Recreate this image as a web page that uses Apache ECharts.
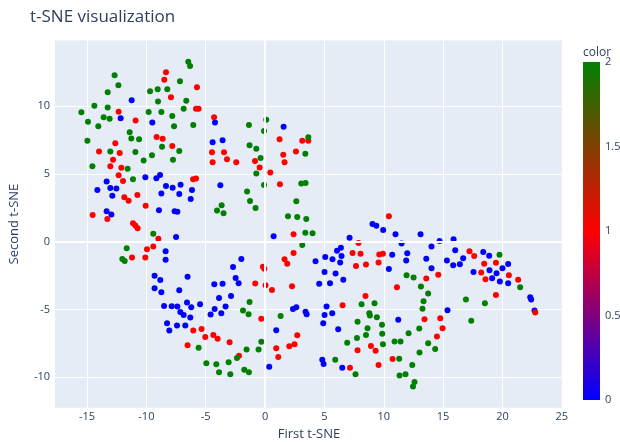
<!DOCTYPE html>
<html><head><meta charset="utf-8">
<script src="https://cdn.jsdelivr.net/npm/echarts@6/dist/echarts.min.js"></script>
<style>html,body{margin:0;padding:0;background:#fff}#c{width:620px;height:442px}</style>
</head><body><div id="c"></div>
<script>
const xTicks = [-15,-10,-5,0,5,10,15,20,25];
const yTicks = [-10,-5,0,5,10];
const colorTicks = [0,0.5,1,1.5,2];
const colorStops = ['#0000ff','#ff0000','#008000'];

// color = 0 (blue)
const class0 = [[-11.24,10.44],[-12.17,9.11],[-9.50,8.79],[-4.22,8.79],[1.56,8.49],[-4.42,7.34],[-3.58,7.49],
[-10.09,4.76],[-9.16,4.69],[-8.85,4.93],[-13.35,4.44],[-14.13,3.82],[-13.04,3.97],[-12.53,3.92],[-8.35,4.12],[-7.79,3.99],[-7.12,4.21],[-6.16,3.82],[-8.74,3.55],[-7.23,3.53],[-12.87,3.40],[-6.27,3.16],[-8.94,2.32],[-7.62,2.25],[-7.39,2.22],[-13.35,2.25],[-12.95,2.00],[-7.50,0.35],[-8.38,-0.70],[-8.38,-1.34],[-9.31,-2.52],[-8.83,-2.82],[-6.53,-2.58],
[-3.77,4.17],[0.72,0.41],[-2.00,-1.27],[-2.70,-1.86],[4.25,-1.44],[-2.48,-2.67],
[9.05,1.31],[9.37,1.17],[9.95,0.87],[10.99,0.55],[13.10,0.55],[7.12,0.30],[11.50,-0.14],[14.70,0.06],[14.02,-0.36],[6.39,-0.44],[6.06,-0.66],[6.44,-1.05],[5.07,-1.12],[5.68,-1.29],[6.33,-1.54],[10.71,-0.97],[11.98,-0.85],[11.89,-1.39],[13.58,-1.25],[15.32,-1.39],[10.43,-2.01],[14.02,-1.96],[5.01,-2.23],[5.94,-2.35],[6.59,-2.80],
[15.88,0.18],[16.02,-0.63],[18.38,-0.75],[18.88,-1.03],[16.69,-1.22],[16.41,-1.66],[15.85,-1.73],[20.48,-1.64],[20.00,-1.96],[17.56,-2.23],[18.91,-2.10],[19.50,-2.32],[19.13,-2.69],[19.78,-2.94],
[-9.31,-3.43],[-8.74,-3.73],[-7.23,-3.58],[-8.51,-4.74],[-7.87,-4.76],[-7.39,-4.79],[-6.58,-4.49],[-6.22,-4.83],[-7.14,-5.18],[-6.86,-5.40],[-6.30,-5.60],[-8.26,-6.01],[-8.07,-6.56],[-7.42,-6.19],[-6.72,-6.19],
[-4.28,-3.14],[-3.58,-3.11],[-2.23,-3.06],[4.56,-3.11],[-3.88,-4.15],[-2.87,-4.00],[-5.48,-4.61],[-3.33,-4.79],[-4.25,-4.96],[-4.59,-5.38],[-3.69,-5.28],[2.35,-4.96],[2.63,-4.83],[3.41,-5.16],[3.50,-5.35],[0.94,-6.53],[0.35,-9.22],
[5.47,-3.06],[15.37,-5.06],[5.18,-4.79],[5.01,-5.40],[5.66,-5.28],[11.22,-5.75],[4.90,-6.01],[6.16,-6.46],[4.82,-8.72],[4.93,-9.02],[6.50,-9.31],
[20.48,-3.06],[22.34,-4.10],[22.42,-4.27],[22.70,-5.08]];

// color = 1 (red)
const class1 = [[-8.35,12.51],[-8.49,11.96],[-7.93,10.66],[-12.34,9.60],[-10.91,8.94],[-9.14,7.73],[-8.63,7.59],[-12.62,7.27],[-7.82,7.07],[-13.99,6.65],[-12.25,6.55],
[-5.74,11.40],[-5.82,9.82],[-5.60,9.82],[-4.30,9.19],[1.22,7.56],[3.13,7.46],[3.64,7.46],[-4.47,6.61],[-3.46,6.61],[1.53,6.41],[2.60,6.65],
[-12.81,6.04],[-13.04,5.57],[-12.11,5.45],[-12.34,4.91],[-11.97,4.49],[-11.86,3.28],[-11.50,3.03],[-10.76,3.45],[-10.06,2.66],[-14.53,1.98],[-13.29,1.68],[-11.13,1.37],[-10.93,1.19],[-10.74,1.00],[-8.99,0.21],[-9.42,-0.36],[-9.95,-0.55],[-11.21,-1.17],[-10.09,-1.17],
[-4.42,5.87],[-3.21,6.09],[-2.43,5.87],[-0.85,5.96],[1.64,5.87],[-0.46,5.47],[0.44,5.10],[-6.07,4.61],[-5.82,4.66],[1.25,4.24],[2.40,0.55],[2.40,-0.83],[1.64,-1.29],[1.87,-1.62],[-0.18,-1.84],[-0.07,-1.99],
[10.43,1.88],[7.87,-0.09],[7.37,-0.83],[8.04,-0.88],[9.62,-0.95],[9.93,-0.88],[7.66,-1.79],[8.50,-1.69],[9.56,-1.54],[13.58,-2.72],[14.59,-2.43],
[17.22,-0.70],[17.62,-1.05],[18.46,-1.62],[19.45,-1.56],[18.21,-2.28],[20.54,-2.47],[18.57,-2.77],[21.32,-2.80],
[-6.53,-7.64],
[-0.83,-3.09],[0.04,-3.21],[0.58,-3.56],[2.27,-3.28],[-0.32,-5.68],[-6.05,-6.56],[-5.35,-6.44],[-5.04,-7.03],[-4.36,-6.88],[-4.00,-7.17],[-2.99,-7.42],[2.71,-6.90],[2.04,-7.71],[2.48,-7.56],[0.94,-7.86],[1.11,-8.50],[-2.20,-8.41],
[11.11,-3.36],[8.46,-4.00],[6.53,-4.69],[13.43,-5.72],[14.76,-5.65],[14.95,-6.38],[14.48,-7.00],[8.92,-7.69],[9.31,-8.04],[7.79,-8.01],[10.74,-8.65],[9.56,-9.09],[7.15,-9.31],
[19.45,-3.93],[22.76,-5.23]];

// color = 2 (green)
const class2 = [[-6.47,13.29],[-6.32,12.97],[-12.68,12.29],[-7.17,11.84],[-12.36,11.55],[-9.69,11.11],[-9.05,11.25],[-8.24,11.25],[-13.26,11.03],[-9.02,10.34],[-6.64,10.41],[-14.38,10.04],[-13.26,9.90],[-6.86,9.82],[-15.48,9.56],[-9.81,9.58],[-8.74,9.58],[-13.60,9.19],[-13.10,9.08],[-14.92,8.86],[-7.82,9.28],[-14.05,8.52],[-7.67,8.52],[-11.41,8.08],[-11.27,7.61],[-10.62,7.56],[-14.97,7.46],[-8.68,7.00],[-7.23,6.70],[-13.04,6.65],[-10.93,6.63],[-9.53,6.38],
[-6.05,8.62],[-1.36,8.62],[0.10,9.01],[-0.09,8.18],[3.64,7.71],[-1.31,7.12],[-0.74,6.87],[3.39,6.50],
[-10.23,5.99],[-7.76,6.04],[-14.55,5.57],[-11.58,5.39],[-11.13,4.61],[-9.42,0.58],[-11.66,-0.48],[-12.03,-1.27],[-11.83,-1.42],
[-0.38,6.18],[-0.74,5.03],[-0.09,4.19],[3.05,4.29],[3.41,4.34],[-1.52,3.70],[-1.27,3.01],[2.63,2.99],[-3.66,2.69],[-4.05,2.30],[-3.50,2.10],[-0.80,2.49],[1.93,1.88],[2.71,1.83],[3.47,1.68],[3.39,0.67],[4.00,0.63],[3.13,-0.24],
[11.92,-2.47],[12.51,-2.65],
[19.75,-0.97],
[-1.31,-4.44],[-1.86,-5.08],[-1.39,-5.35],[1.31,-5.48],[-0.32,-7.39],[-1.56,-7.96],[-0.55,-7.96],[-5.60,-7.82],[-2.37,-8.58],[-3.07,-8.89],[-4.95,-8.97],[-4.11,-9.04],[-3.88,-9.63],[-2.93,-9.78],[-1.75,-9.44],[-1.36,-9.63],
[13.13,-3.31],[13.74,-3.83],[13.35,-4.39],[8.13,-4.61],[9.22,-4.54],[13.26,-4.94],[8.78,-5.28],[8.83,-5.45],[9.42,-5.57],[7.79,-5.90],[9.85,-6.12],[8.63,-6.38],[12.99,-6.41],[8.50,-6.88],[9.87,-6.80],[12.09,-6.75],[7.74,-7.10],[6.92,-7.45],[9.93,-7.56],[10.91,-7.37],[11.41,-7.37],[13.74,-7.49],[14.33,-7.91],[13.01,-8.18],[5.91,-8.72],[11.30,-8.63],[12.40,-9.09],[7.62,-9.78],[11.33,-9.88],[11.83,-9.78],[12.59,-10.35],[12.46,-10.69],
[21.49,-3.36],[16.92,-4.27],[18.52,-4.54],[17.37,-5.84]];

const classes = [class0, class1, class2];
const points = [];
classes.forEach((arr, c) => arr.forEach(p => points.push([p[0], p[1], c])));

const FONT = '"Open Sans", Verdana, Arial, sans-serif';
const TXT = '#2a3f5f';
const cb = {x: 583, y: 62, w: 17, h: 338};

const graphic = [
  {type:'rect', shape:{x:cb.x, y:cb.y, width:cb.w, height:cb.h},
   style:{fill:new echarts.graphic.LinearGradient(0,0,0,1,[
     {offset:0,color:colorStops[2]},{offset:0.5,color:colorStops[1]},{offset:1,color:colorStops[0]}])}},
  {type:'text', x:cb.x, y:cb.y-9, style:{text:'color', fill:TXT, font:'12px '+FONT, verticalAlign:'middle'}}
];
colorTicks.forEach(t => {
  graphic.push({type:'text', x:cb.x+cb.w+5, y:cb.y + cb.h*(1 - t/2),
    style:{text:String(t), fill:TXT, font:'11px '+FONT, verticalAlign:'middle'}});
});

const chart = echarts.init(document.getElementById('c'), null, {renderer:'canvas'});
chart.setOption({
  animation:false,
  backgroundColor:'#fff',
  title:{text:'t-SNE visualization', left:25, top:4, textStyle:{fontFamily:FONT, fontSize:17, fontWeight:'normal', color:TXT}},
  grid:{left:55, right:57, top:40.5, bottom:34.3, show:true, backgroundColor:'#E5ECF6', borderWidth:0, outerBoundsMode:'none', containLabel:false},
  xAxis:{type:'value', min:-17.7, max:25.1,
    name:'First t-SNE', nameLocation:'middle', nameGap:20,
    nameTextStyle:{fontFamily:FONT, fontSize:13, color:TXT},
    axisLine:{show:false}, axisTick:{show:false, customValues:xTicks},
    axisLabel:{customValues:xTicks, fontFamily:FONT, fontSize:11, color:TXT, margin:4},
    splitLine:{show:true, lineStyle:{color:'#fff', width:1}}},
  yAxis:{type:'value', min:-12.25, max:14.85,
    name:'Second t-SNE', nameLocation:'middle', nameGap:34, nameRotate:90,
    nameTextStyle:{fontFamily:FONT, fontSize:13, color:TXT},
    axisLine:{show:false}, axisTick:{show:false, customValues:yTicks},
    axisLabel:{customValues:yTicks, fontFamily:FONT, fontSize:11, color:TXT, margin:5},
    splitLine:{show:true, lineStyle:{color:'#fff', width:1}}},
  visualMap:{show:false, type:'continuous', min:0, max:2, dimension:2, seriesIndex:1, inRange:{color:colorStops}},
  graphic:graphic,
  series:[
    {type:'scatter', data:[], z:1, silent:true,
     markLine:{silent:true, symbol:'none', label:{show:false}, lineStyle:{color:'#fff', width:2, type:'solid'},
       data:[{xAxis:0},{yAxis:0}]}},
    {type:'scatter', data:points, symbolSize:6, z:2, itemStyle:{opacity:1}}
  ]
});
</script>
</body></html>
